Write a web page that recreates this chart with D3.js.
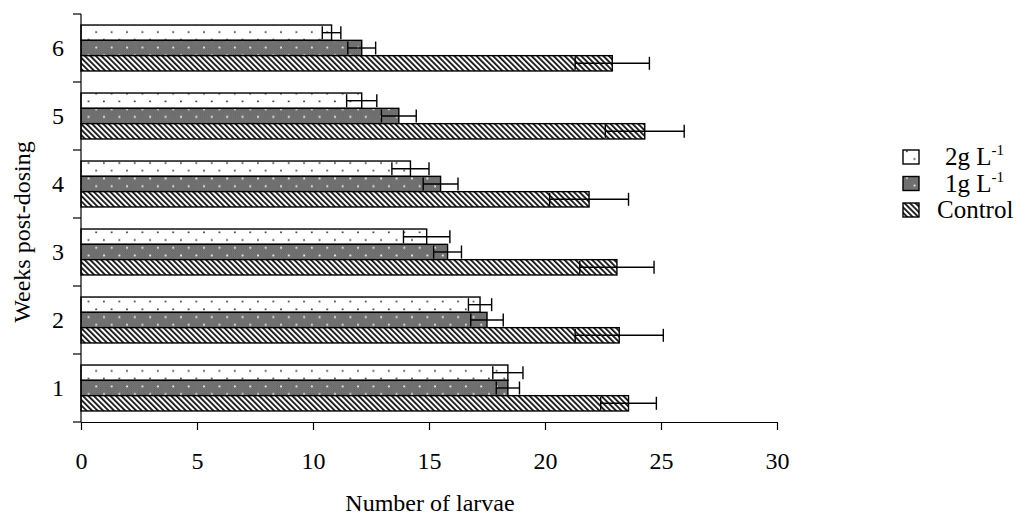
<!DOCTYPE html>
<html>
<head>
<meta charset="utf-8">
<script src="https://cdn.jsdelivr.net/npm/d3@7"></script>
<style>
  html, body { margin: 0; padding: 0; background: #fff; }
  svg { display: block; }
  text { font-family: "Liberation Serif", "Times New Roman", serif; fill: #000; }
</style>
</head>
<body>
<svg id="chart" width="1029" height="516"></svg>
<script>
// Weeks after dosing (bottom to top: 1 .. 6)
const weeks = [1, 2, 3, 4, 5, 6];
// Treatments, in the order they are stacked inside each week's group (top to bottom)
const series = ["2g", "1g", "Control"];

// Mean number of larvae per week
const mean2g      = [18.4, 17.2, 14.9, 14.2, 12.1, 10.8];
const mean1g      = [18.4, 17.5, 15.8, 15.5, 13.7, 12.1];
const meanControl = [23.6, 23.2, 23.1, 21.9, 24.3, 22.9];

// Error bar half-widths
const err2g      = [0.65, 0.5, 1.0, 0.8, 0.65, 0.4];
const err1g      = [0.5, 0.7, 0.6, 0.75, 0.75, 0.6];
const errControl = [1.2, 1.9, 1.6, 1.7, 1.7, 1.6];

const xTicks = [0, 5, 10, 15, 20, 25, 30];

const means = { "2g": mean2g, "1g": mean1g, "Control": meanControl };
const errs  = { "2g": err2g,  "1g": err1g,  "Control": errControl };

const rows = [];
weeks.forEach((w, i) => {
  series.forEach(s => rows.push({ week: w, key: s, value: means[s][i], err: errs[s][i] }));
});

const svg = d3.select("#chart");
const defs = svg.append("defs");

// Dotted fill for 2 g/L
const pDots = defs.append("pattern").attr("id", "pat2g")
  .attr("patternUnits", "userSpaceOnUse").attr("width", 15.4).attr("height", 15.4);
pDots.append("rect").attr("width", 15.4).attr("height", 15.4).attr("fill", "#fff");
pDots.append("rect").attr("x", 3).attr("y", 0.5).attr("width", 1.6).attr("height", 1.6).attr("fill", "#222");
pDots.append("rect").attr("x", 10.7).attr("y", 8.2).attr("width", 1.6).attr("height", 1.6).attr("fill", "#222");

// Dark stipple with light dots for 1 g/L
const pGrey = defs.append("pattern").attr("id", "pat1g")
  .attr("patternUnits", "userSpaceOnUse").attr("width", 15.4).attr("height", 15.4);
pGrey.append("rect").attr("width", 15.4).attr("height", 15.4).attr("fill", "#7c7c7c");
const fine = defs.append("pattern").attr("id", "fineGrey")
  .attr("patternUnits", "userSpaceOnUse").attr("width", 2).attr("height", 2);
fine.append("rect").attr("width", 2).attr("height", 2).attr("fill", "#8a8a8a");
fine.append("rect").attr("width", 1).attr("height", 1).attr("fill", "#555");
fine.append("rect").attr("x", 1).attr("y", 1).attr("width", 1).attr("height", 1).attr("fill", "#555");
pGrey.append("rect").attr("width", 15.4).attr("height", 15.4).attr("fill", "url(#fineGrey)");
pGrey.append("rect").attr("x", 3).attr("y", 0.5).attr("width", 1.8).attr("height", 1.8).attr("fill", "#f2f2f2");
pGrey.append("rect").attr("x", 10.7).attr("y", 8.2).attr("width", 1.8).attr("height", 1.8).attr("fill", "#f2f2f2");

// Diagonal hatch for Control
const pHatch = defs.append("pattern").attr("id", "patCtl")
  .attr("patternUnits", "userSpaceOnUse").attr("width", 3.9).attr("height", 3.9)
  .attr("patternTransform", "rotate(-45)");
pHatch.append("rect").attr("width", 3.9).attr("height", 3.9).attr("fill", "#fff");
pHatch.append("rect").attr("width", 1.8).attr("height", 3.9).attr("fill", "#111");

const fills = { "2g": "url(#pat2g)", "1g": "url(#pat1g)", "Control": "url(#patCtl)" };

// Scales
const x = d3.scaleLinear().domain([0, 30]).range([81, 777]);
const y0 = d3.scaleBand().domain(weeks.slice().reverse()).range([14, 422]).padding(0);
const y1 = d3.scaleBand().domain(series).range([0, y0.bandwidth()]).paddingInner(0).paddingOuter(0.72);

// Bars
const g = svg.append("g");
g.selectAll("rect.bar").data(rows).join("rect")
  .attr("class", "bar")
  .attr("x", x(0))
  .attr("y", d => y0(d.week) + y1(d.key))
  .attr("width", d => x(d.value) - x(0))
  .attr("height", y1.bandwidth())
  .attr("fill", d => fills[d.key])
  .attr("stroke", "#000")
  .attr("stroke-width", 1.4);

// Error bars
const eb = g.selectAll("g.err").data(rows).join("g").attr("class", "err")
  .attr("stroke", "#000").attr("stroke-width", 1.4);
const cy = d => y0(d.week) + y1(d.key) + y1.bandwidth() / 2;
const capH = y1.bandwidth() * 0.85;
eb.append("line")
  .attr("x1", d => x(d.value - d.err)).attr("x2", d => x(d.value + d.err))
  .attr("y1", cy).attr("y2", cy);
eb.append("line")
  .attr("x1", d => x(d.value - d.err)).attr("x2", d => x(d.value - d.err))
  .attr("y1", d => cy(d) - capH / 2).attr("y2", d => cy(d) + capH / 2);
eb.append("line")
  .attr("x1", d => x(d.value + d.err)).attr("x2", d => x(d.value + d.err))
  .attr("y1", d => cy(d) - capH / 2).attr("y2", d => cy(d) + capH / 2);

// X axis
const xAxis = svg.append("g").attr("transform", "translate(0,422)")
  .call(d3.axisBottom(x).tickValues(xTicks).tickSize(8).tickSizeOuter(0).tickPadding(22));
xAxis.select(".domain").attr("stroke", "#000").attr("stroke-width", 1.2);
xAxis.selectAll(".tick line").attr("stroke", "#000").attr("stroke-width", 1.2);
xAxis.selectAll(".tick text").style("font-family", "Liberation Serif").style("font-size", "24px");

// Y axis: ticks sit on the group boundaries
const boundaries = weeks.map(w => y0(w)).concat([y0(1) + y0.step()]);
const yAxisG = svg.append("g");
yAxisG.append("line").attr("x1", 81).attr("x2", 81).attr("y1", 14).attr("y2", 422)
  .attr("stroke", "#000").attr("stroke-width", 1.2);
yAxisG.selectAll("line.yt").data(boundaries).join("line").attr("class", "yt")
  .attr("x1", 73).attr("x2", 81).attr("y1", d => d).attr("y2", d => d)
  .attr("stroke", "#000").attr("stroke-width", 1.2);
yAxisG.selectAll("text").data(weeks).join("text")
  .attr("x", 64).attr("y", d => y0(d) + y0.bandwidth() / 2)
  .attr("dy", "0.35em").attr("text-anchor", "end")
  .style("font-size", "24px").text(d => d);

// Axis titles
svg.append("text").attr("x", 430).attr("y", 511).attr("text-anchor", "middle")
  .style("font-size", "24px").text("Number of larvae");
svg.append("text").attr("transform", "translate(30,232) rotate(-90)").attr("text-anchor", "middle")
  .style("font-size", "24px").text("Weeks post-dosing");

// Legend
const legendLabels = [
  { key: "2g", main: "2g L", sup: "-1", dx: 42 },
  { key: "1g", main: "1g L", sup: "-1", dx: 42 },
  { key: "Control", main: "Control", sup: "", dx: 34 }
];
const lg = svg.append("g").attr("transform", "translate(903,150)");
const li = lg.selectAll("g").data(legendLabels).join("g")
  .attr("transform", (d, i) => `translate(0,${i * 26.5})`);
li.append("rect").attr("width", 16).attr("height", 14)
  .attr("fill", d => fills[d.key]).attr("stroke", "#000").attr("stroke-width", 1.4);
const lt = li.append("text").attr("x", d => d.dx).attr("y", 15).style("font-size", "25px");
lt.append("tspan").text(d => d.main);
lt.append("tspan").attr("dy", -10).style("font-size", "15px").text(d => d.sup);
</script>
</body>
</html>
